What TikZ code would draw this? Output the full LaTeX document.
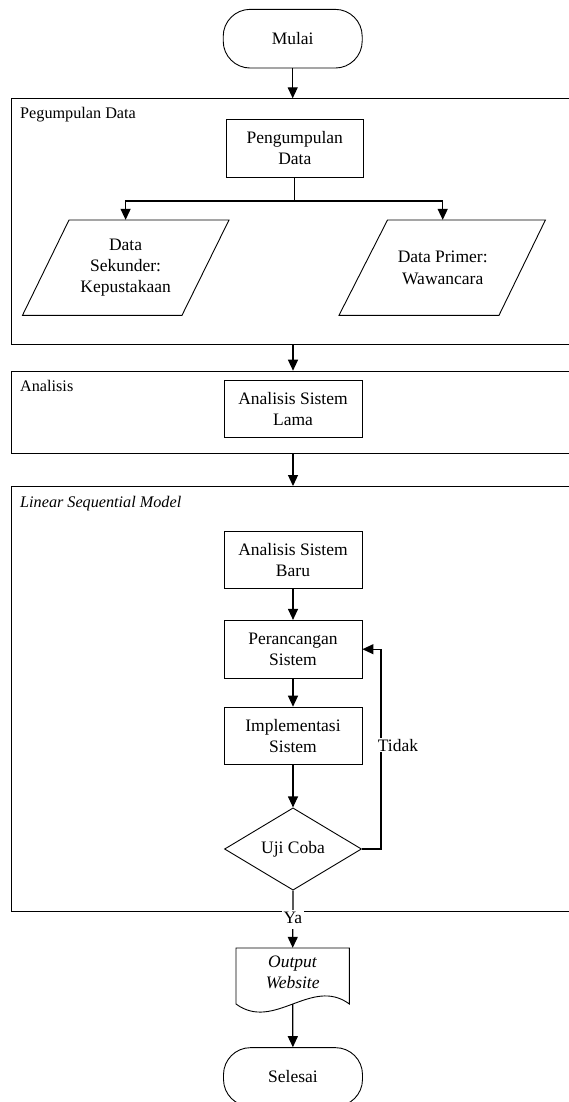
\documentclass[tikz,border=0pt]{standalone}
\usepackage{fontspec}
\setmainfont{Liberation Serif}
\usetikzlibrary{arrows.meta,shapes.geometric}
\begin{document}
\begin{tikzpicture}[x=1pt,y=-1pt,
  every node/.style={font=\fontsize{17.5}{21.3}\selectfont, align=center},
  box/.style={draw, line width=0.9pt, minimum width=138pt, minimum height=57.7pt, inner sep=0pt},
  term/.style={draw, line width=0.9pt, rounded corners=27pt, minimum width=139pt, minimum height=58.7pt, inner sep=0pt},
  txt/.style={inner sep=0pt},
  shp/.style={draw, line width=0.9pt},
  frame/.style={draw, line width=1pt, anchor=north west, inner sep=0pt, minimum width=600pt},
  flabel/.style={anchor=base west, inner sep=0pt, font=\fontsize{16.2}{19}\selectfont},
  arr/.style={line width=1.2pt, -{Triangle[length=11pt,width=10pt]}},
  ln/.style={line width=1.2pt},
  elabel/.style={fill=white, inner sep=1pt}]
\useasboundingbox (0,0) rectangle (569,1102);
\clip (0,0) rectangle (569,1102);

% frames
\node[frame, minimum height=245.7pt] (f1) at (11,98.3) {};
\node[frame, minimum height=82.6pt] (f2) at (11,370.7) {};
\node[frame, minimum height=425pt] (f3) at (11,486) {};
\node[flabel] (l1) at (20,118.5) {Pegumpulan Data};
\node[flabel] (l2) at (20,391) {Analisis};
\node[flabel] (l3) at (20,507) {\textit{Linear Sequential Model}};

% nodes
\node[term] (mulai) at (292.7,38.7) {Mulai};
\node[box, minimum width=137pt] (peng) at (294.8,148.2) {Pengumpulan\\Data};
\draw[shp] (22.5,315.3) -- (69,220) -- (229,220) -- (182,315.3) -- cycle;
\node[txt, minimum width=150pt, minimum height=95.3pt] (sek) at (125.6,267.7) {Data\\Sekunder:\\Kepustakaan};
\draw[shp] (339,315.3) -- (387.5,220) -- (545.4,220) -- (499,315.3) -- cycle;
\node[txt, minimum width=150pt, minimum height=95.3pt] (prim) at (442.7,267.7) {Data Primer:\\Wawancara};
\node[box] (lama) at (293,408.8) {Analisis Sistem\\Lama};
\node[box] (baru) at (293,560) {Analisis Sistem\\Baru};
\node[box] (peranc) at (293,649.2) {Perancangan\\Sistem};
\node[box] (impl) at (293,736) {Implementasi\\Sistem};
\node[draw, line width=0.9pt, diamond, minimum width=137pt, minimum height=82.3pt, inner sep=0pt] (uji) at (293,849) {Uji Coba};
\draw[shp] (236,948) -- (349.4,948) -- (349.4,1004) .. controls (311.6,976) and (274,1032) .. (236,1004) -- cycle;
\node[txt, minimum width=113.4pt, minimum height=49pt] (doc) at (292.7,972.5) {\textit{Output}\\\textit{Website}};
\coordinate (docw) at (292.7,1004);
\node[term] (selesai) at (293,1077) {Selesai};

% connectors
\coordinate (br) at (294.8,201);
\draw[arr] (mulai) -- (mulai |- f1.north);
\draw[ln] (peng.south) -- (br);
\draw[arr] (br) -| (sek.north);
\draw[arr] (br) -| (prim.north);
\draw[arr] (lama |- f1.south) -- (lama |- f2.north);
\draw[arr] (lama |- f2.south) -- (lama |- f3.north);
\draw[arr] (baru) -- (peranc);
\draw[arr] (peranc) -- (impl);
\draw[arr] (impl) -- (uji);
\draw[arr] (uji.east) -- ++(19,0) |- node[elabel, pos=0.26, xshift=17pt] {Tidak} (peranc.east);
\draw[arr] (uji.south) -- node[elabel, inner sep=1.5pt, text height=12.5pt, text depth=3.5pt] {Ya} (doc.north);
\draw[arr] (docw) -- (selesai);
\end{tikzpicture}
\end{document}
